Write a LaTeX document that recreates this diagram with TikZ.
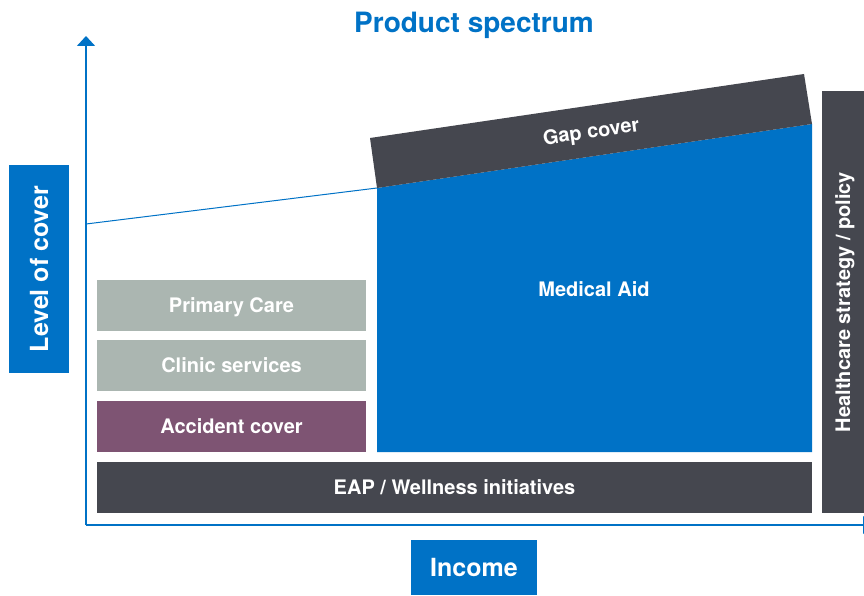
\documentclass[tikz,border=0pt]{standalone}
\usepackage{fontspec}
\setmainfont{TeX Gyre Heros}
\usetikzlibrary{arrows.meta}
\definecolor{brandblue}{HTML}{0072C6}
\definecolor{slate}{HTML}{45474F}
\definecolor{sage}{HTML}{ABB6B1}
\definecolor{plum}{HTML}{7E5473}
\tikzset{
  every node/.style={font=\bfseries},
  band/.style={inner sep=0pt, text=white, text height=14.4pt, text depth=0pt,
    font=\fontsize{20}{24}\selectfont\bfseries},
  axislabel/.style={fill=brandblue, inner sep=0pt, text=white, text height=18pt, text depth=0pt,
    font=\fontsize{25}{30}\selectfont\bfseries},
  axis/.style={brandblue, line width=1.5pt, -{Triangle[width=18pt,length=10pt]}},
}
\begin{document}
\begin{tikzpicture}[x=1pt, y=-1pt]
\useasboundingbox (0,0) rectangle (864,596);

% title
\node[text=brandblue, text height=20pt, text depth=0pt, font=\fontsize{28}{32}\selectfont\bfseries] (title) at (474,23) {Product spectrum};

% axes
\coordinate (origin) at (86,525);
\coordinate (ytip) at (86,36);
\coordinate (xtip) at (873,525);
\draw[axis] (origin) -- (ytip);
\draw[axis] (origin) -- (xtip);

% axis labels
\node[axislabel, minimum width=208pt, minimum height=60pt, rotate=90] (ylabel) at (39,269) {Level of cover};
\node[axislabel, minimum width=126pt, minimum height=55pt] (xlabel) at (474,567.5) {Income};

% cover trend line
\coordinate (trendstart) at (86,224);
\coordinate (gapbl) at (377,188);
\draw[brandblue, line width=1pt] (trendstart) -- (gapbl);

% medical aid block
\fill[brandblue] (gapbl) -- (812,124) -- (812,452) -- (377,452) -- cycle;
\node[band] (medical) at (594,289) {Medical Aid};

% gap cover band
\fill[slate] (370,138) -- (804,74) -- (812,124) -- (gapbl) -- cycle;
\node[band, rotate=8.4] (gap) at (591,131) {Gap cover};

% entry-level products
\node[band, fill=sage, minimum width=269pt, minimum height=51pt] (primary) at (231.5,305.5) {Primary Care};
\node[band, fill=sage, minimum width=269pt, minimum height=51pt] (clinic) at (231.5,365.5) {Clinic services};
\node[band, fill=plum, minimum width=269pt, minimum height=51pt] (accident) at (231.5,426) {Accident cover};

% base band
\node[band, fill=slate, minimum width=715pt, minimum height=51pt] (eap) at (454.5,487.5) {EAP / Wellness initiatives};

% policy band
\node[band, fill=slate, minimum width=422pt, minimum height=42pt, rotate=90] (policy) at (843,302) {Healthcare strategy / policy};
\end{tikzpicture}
\end{document}
